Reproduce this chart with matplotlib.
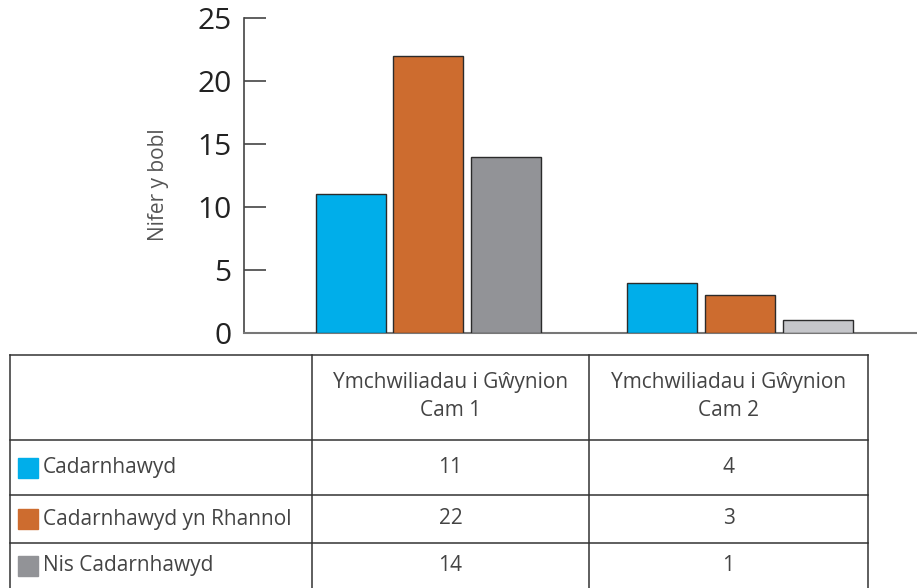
#!/usr/bin/env python3
''' grouped bars with a data table underneath '''

import matplotlib.pyplot as plt
import numpy as np

plt.rcParams['font.family'] = ['Open Sans', 'DejaVu Sans']

groups = ['Ymchwiliadau i Gŵynion\nCam 1', 'Ymchwiliadau i Gŵynion\nCam 2']
series = ['Cadarnhawyd', 'Cadarnhawyd yn Rhannol', 'Nis Cadarnhawyd']
values = [[11, 4], [22, 3], [14, 1]]
colors = ['#00aeea', '#cd6c2f', '#929397']
bar_colors = [['#00aeea', '#00aeea'], ['#cd6c2f', '#cd6c2f'], ['#929397', '#c5c6ca']]
yticks = [0, 5, 10, 15, 20, 25]

W, H = 917, 588
fig = plt.figure(figsize=(W / 100, H / 100), dpi=100)

def box(x0, y0, x1, y1):
    ''' pixel box (top-left origin) to figure rect '''
    return [x0 / W, 1 - y1 / H, (x1 - x0) / W, (y1 - y0) / H]

# --- bar chart ---
ax = fig.add_axes(box(244, 18, 917, 333))
x = np.arange(len(groups))
bw, step = 0.2247, 0.25
for i, s in enumerate(series):
    ax.bar(x + (i - 1) * step, values[i], bw, color=bar_colors[i],
           edgecolor='#2b2b2b', linewidth=1.0, zorder=3)
ax.set_xlim(-0.592, 1.568)
ax.set_ylim(0, 25)
ax.set_yticks(yticks)
ax.set_xticks([])
for sp in ['top', 'right']:
    ax.spines[sp].set_visible(False)
ax.spines['left'].set_color('#444444')
ax.spines['bottom'].set_color('#777777')
ax.spines['left'].set_linewidth(1.2)
ax.spines['bottom'].set_linewidth(1.5)
ax.tick_params(axis='y', direction='in', length=16, width=1.2, color='#444444',
               labelsize=21.5, labelcolor='#222222', pad=9)
ax.set_ylabel('Nifer y bobl', fontsize=15, color='#555555')
ax.yaxis.set_label_coords(-0.112, 0.47)

# --- table ---
tx = [10, 312, 589, 868]
ty = [355, 440, 495, 543, 588]
tab = fig.add_axes(box(0, 340, W, H))
tab.set_xlim(0, W)
tab.set_ylim(H, 340)
tab.axis('off')
lc = '#333333'
for yy in ty[:-1]:
    tab.plot([tx[0], tx[-1]], [yy, yy], color=lc, lw=1.1, clip_on=False)
for xx in tx:
    tab.plot([xx, xx], [ty[0], H], color=lc, lw=1.1, clip_on=False)

tc = '#444444'
fs = 15
for j, g in enumerate(groups):
    tab.text((tx[j + 1] + tx[j + 2]) / 2, (ty[0] + ty[1]) / 2 - 1, g, ha='center',
             va='center', fontsize=fs, color=tc, linespacing=1.45)
for i, s in enumerate(series):
    yc = (ty[i + 1] + ty[i + 2]) / 2
    tab.add_patch(plt.Rectangle((18, yc - 10), 20, 20, color=colors[i]))
    tab.text(43, yc, s, ha='left', va='center', fontsize=fs, color=tc)
    for j in range(len(groups)):
        tab.text((tx[j + 1] + tx[j + 2]) / 2, yc, str(values[i][j]), ha='center',
                 va='center', fontsize=fs, color=tc)

fig.savefig('out.png', dpi=100)
